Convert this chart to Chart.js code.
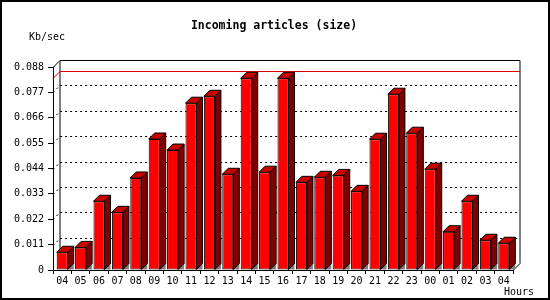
<!DOCTYPE html>
<html>
<head>
<meta charset="utf-8">
<script src="https://cdn.jsdelivr.net/npm/chart.js@4.4.1/dist/chart.umd.min.js"></script>
<style>
    html, body { margin: 0; padding: 0; background: #fff; }
</style>
</head>
<body>
<canvas id="myChart" width="550" height="300"></canvas>
<script>
// data
const hours = ["04", "05", "06", "07", "08", "09", "10", "11", "12", "13", "14", "15", "16",
    "17", "18", "19", "20", "21", "22", "23", "00", "01", "02", "03", "04"];
const kbPerSec = [0.0077, 0.0098, 0.0298, 0.0250, 0.0399, 0.0568, 0.0520, 0.0723, 0.0753,
    0.0415, 0.0831, 0.0424, 0.0831, 0.0380, 0.0402, 0.0410, 0.0341, 0.0567, 0.0762,
    0.0593, 0.0437, 0.0166, 0.0298, 0.0129, 0.0116];
const yTicks = [0, 0.011, 0.022, 0.033, 0.044, 0.055, 0.066, 0.077, 0.088];
const chartTitle = "Incoming articles (size)";
const yLabel = "Kb/sec";
const xLabel = "Hours";

const DEPTH = 7;      // depth of the back wall
const BAR_DEPTH = 6;  // depth of the bars
const monoFont = '"DejaVu Sans Mono", "Liberation Mono", monospace';

function poly(ctx, pts, fill, stroke) {
    ctx.beginPath();
    ctx.moveTo(pts[0][0], pts[0][1]);
    for (let i = 1; i < pts.length; i++) {
        ctx.lineTo(pts[i][0], pts[i][1]);
    }
    ctx.closePath();
    if (fill) {
        ctx.fillStyle = fill;
        ctx.fill();
    }
    if (stroke) {
        ctx.strokeStyle = stroke;
        ctx.lineWidth = 1;
        ctx.stroke();
    }
}

const box3d = {
    id: "box3d",
    beforeDraw(chart) {
        const ctx = chart.ctx;
        ctx.save();
        ctx.fillStyle = "#fff";
        ctx.fillRect(0, 0, chart.width, chart.height);
        ctx.strokeStyle = "#000";
        ctx.lineWidth = 2;
        ctx.strokeRect(1, 1, chart.width - 2, chart.height - 2);
        ctx.restore();
    },
    beforeDatasetsDraw(chart) {
        const ctx = chart.ctx;
        const a = chart.chartArea;
        const y = chart.scales.y;
        const d = DEPTH;
        ctx.save();
        ctx.lineWidth = 1;

        // dotted grid on the back wall
        ctx.strokeStyle = "#000";
        ctx.setLineDash([2, 3]);
        yTicks.forEach((v) => {
            if (v === 0 || v === yTicks[yTicks.length - 1]) return;
            const py = Math.round(y.getPixelForValue(v)) + 0.5;
            ctx.beginPath();
            ctx.moveTo(a.left, py);
            ctx.lineTo(a.left + d, py - d);
            ctx.lineTo(a.right + d, py - d);
            ctx.stroke();
        });
        ctx.setLineDash([]);

        // back wall frame
        const top = Math.round(a.top) + 0.5;
        const bot = Math.round(a.bottom) + 0.5;
        ctx.beginPath();
        ctx.moveTo(a.left, top);
        ctx.lineTo(a.left + d, top - d);
        ctx.lineTo(a.right + d, top - d);
        ctx.lineTo(a.right + d, bot - d);
        ctx.lineTo(a.right, bot);
        ctx.moveTo(a.left + d, top - d);
        ctx.lineTo(a.left + d, bot - d);
        ctx.stroke();

        // red line at the maximum
        const maxVal = Math.max(...kbPerSec);
        const my = Math.round(y.getPixelForValue(maxVal)) + 0.5;
        ctx.strokeStyle = "#e00000";
        ctx.beginPath();
        ctx.moveTo(a.left, my);
        ctx.lineTo(a.left + d, my - d);
        ctx.lineTo(a.right + d, my - d);
        ctx.stroke();
        ctx.restore();
    },
    afterDatasetsDraw(chart) {
        const ctx = chart.ctx;
        const d = BAR_DEPTH;
        ctx.save();
        chart.getDatasetMeta(0).data.forEach((bar) => {
            const p = bar.getProps(["x", "y", "base", "width"], true);
            const l = p.x - p.width / 2;
            const r = p.x + p.width / 2;
            // floor shadow
            poly(ctx, [[r, p.base], [r + d, p.base - d], [r + d, p.base]], "#808080", null);
            // side face
            poly(ctx, [[r, p.y], [r + d, p.y - d], [r + d, p.base - d], [r, p.base]], "#800000", "#000");
            // top face
            poly(ctx, [[l, p.y], [l + d, p.y - d], [r + d, p.y - d], [r, p.y]], "#c80000", "#000");
        });
        ctx.restore();
    },
    afterDraw(chart) {
        const ctx = chart.ctx;
        ctx.save();
        ctx.fillStyle = "#000";
        ctx.textBaseline = "middle";
        ctx.textAlign = "center";
        ctx.font = "bold 11.5px " + monoFont;
        ctx.fillText(chartTitle, 274, 26);
        ctx.font = "10px " + monoFont;
        ctx.textAlign = "left";
        ctx.fillText(yLabel, 29, 37);
        ctx.fillText(xLabel, 504, 292);
        ctx.restore();
    },
};

const ctx = document.getElementById("myChart");

new Chart(ctx, {
    type: "bar",
    data: {
        labels: hours,
        datasets: [
            {
                label: "Incoming articles (size)",
                data: kbPerSec,
                backgroundColor: "#ff0000",
                borderColor: "#000",
                borderWidth: 1,
                borderSkipped: false,
                categoryPercentage: 1,
                barPercentage: 0.6,
            },
        ],
    },
    options: {
        responsive: false,
        animation: false,
        layout: {
            padding: { top: 67, right: 37, left: 0, bottom: 0 },
        },
        plugins: {
            legend: { display: false },
            tooltip: { enabled: false },
        },
        scales: {
            x: {
                afterFit: (scale) => { scale.height = 30; },
                grid: {
                    drawOnChartArea: false,
                    drawTicks: true,
                    tickLength: 4,
                    color: "#000",
                },
                border: { color: "#000" },
                ticks: {
                    autoSkip: false,
                    maxRotation: 0,
                    padding: 1,
                    color: "#000",
                    font: { family: monoFont, size: 10 },
                },
            },
            y: {
                min: 0,
                max: 0.088,
                afterFit: (scale) => { scale.width = 53; },
                afterBuildTicks: (scale) => {
                    scale.ticks = yTicks.map((v) => ({ value: v }));
                },
                grid: {
                    drawOnChartArea: false,
                    drawTicks: true,
                    tickLength: 5,
                    color: "#000",
                },
                border: { color: "#000" },
                ticks: {
                    padding: 4,
                    color: "#000",
                    font: { family: monoFont, size: 10 },
                    callback: (v) => (v === 0 ? "0" : v.toFixed(3)),
                },
            },
        },
    },
    plugins: [box3d],
});
</script>
</body>
</html>
